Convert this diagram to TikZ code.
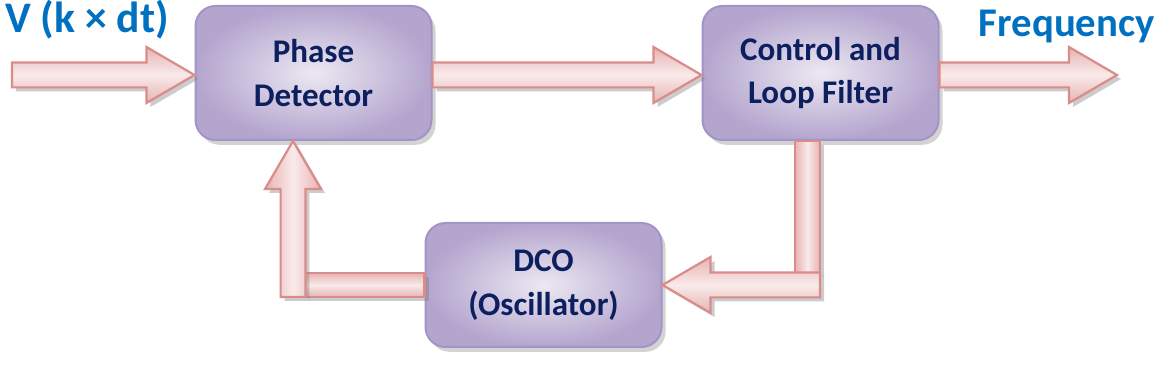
\documentclass[tikz,border=0pt]{standalone}
\usepackage{fontspec}
\setmainfont{Carlito}
\usetikzlibrary{positioning, calc, shadows}
\definecolor{lila}{HTML}{B4A5CE}
\definecolor{lilaclaro}{HTML}{ECE8F2}
\definecolor{borde}{HTML}{A394C6}
\definecolor{rosa}{HTML}{E6B3B2}
\definecolor{rosaclaro}{HTML}{F9EAEA}
\definecolor{rojizo}{HTML}{D98C8A}
\definecolor{marino}{HTML}{0C1F5E}
\definecolor{azul}{HTML}{0070C0}

% flecha gruesa: #2 = cola, #3 = punta
\newcommand{\flecha}[3][]{%
  \coordinate (cuello) at ($(#3)!12mm!(#2)$);
  \path[flecha, #1] ($(#2)!3.1mm!90:(#3)$) -- ($(cuello)!3.1mm!90:(#3)$)
    -- ($(cuello)!7mm!90:(#3)$) -- (#3) -- ($(cuello)!7mm!-90:(#3)$)
    -- ($(cuello)!3.1mm!-90:(#3)$) -- ($(#2)!3.1mm!-90:(#3)$) -- cycle;
}

\begin{document}
\begin{tikzpicture}[x=0.25mm, y=-0.25mm,
				bloque/.style={rectangle, rounded corners=5mm, draw=borde, line width=0.5mm,
					inner color=lilaclaro, outer color=lila, minimum width=59mm, minimum height=33.5mm,
					align=center, text=marino, font=\bfseries\fontsize{23.5}{31}\selectfont,
					drop shadow={shadow xshift=1mm, shadow yshift=-1.2mm, opacity=0.35}},
				flecha/.style={draw=rojizo, line width=0.55mm, line join=miter,
					top color=rosa, bottom color=rosa, middle color=rosaclaro,
					drop shadow={shadow xshift=1mm, shadow yshift=-1mm, opacity=0.4}},
				barra/.style={flecha},
				etiqueta/.style={text=azul, font=\bfseries\fontsize{31}{36}\selectfont, inner sep=0pt}]
				\useasboundingbox (0,0) rectangle (1159,366);
				\node[bloque] (fase) at (313.5,73) {Phase\\Detector};
				\node[bloque] (filtro) at (820.5,73) {Control and\\Loop Filter};
				\node[bloque, minimum height=31mm] (dco) at (543.5,285) {DCO\\(Oscillator)};
				\node[etiqueta, anchor=base west] (voltaje) at (5,33) {V (k × dt)};
				\node[etiqueta, anchor=base east, font=\bfseries\fontsize{29}{34}\selectfont] (frecuencia) at (1155,37) {Frequency};
				\coordinate (entrada) at (12,75);
				\coordinate (salida) at (1117,75);
				\coordinate (codo1) at (807.5,285);
				\coordinate (codo2) at (293,285);
				\coordinate (codo1b) at ($(codo1)+(12.5,0)$);
				\coordinate (codo2b) at ($(codo2)+(0,12)$);
				\flecha{entrada}{entrada -| fase.west}
				\flecha{fase.east |- entrada}{filtro.west |- entrada}
				\flecha{filtro.east |- salida}{salida}
				% lazo de realimentacion
				\path[barra, shading angle=90] ($(codo1 |- filtro.south)+(-12.5,0)$) rectangle ($(codo1)+(12.5,-12)$);
				\flecha{codo1b}{dco.east}
				\path[barra] ($(dco.west)+(0,-12)$) rectangle ($(codo2)+(12,12)$);
				\flecha[shading angle=90]{codo2b}{codo2 |- fase.south}
			\end{tikzpicture}
\end{document}
